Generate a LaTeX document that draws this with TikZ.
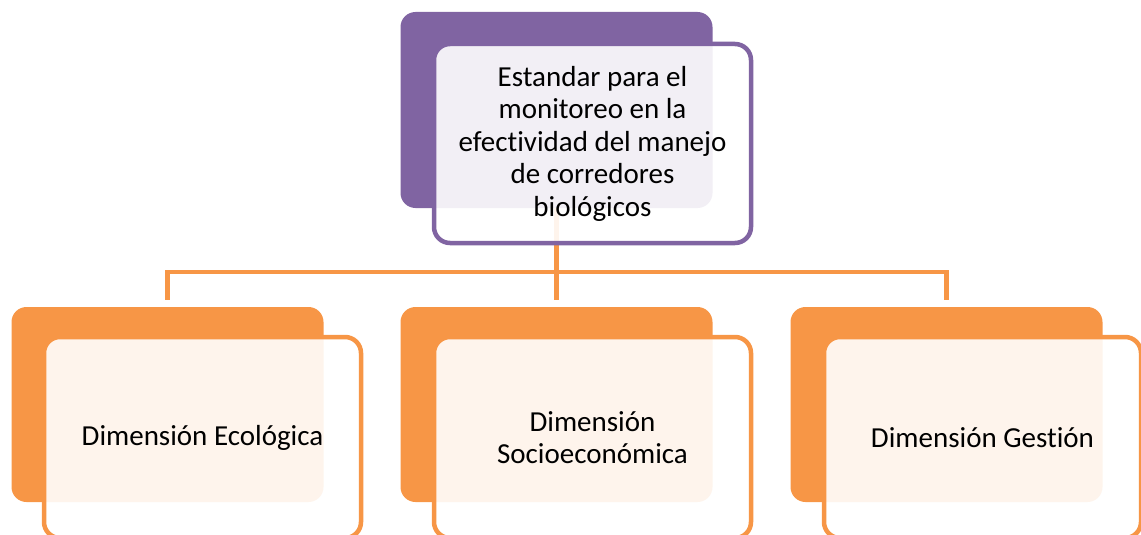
\documentclass[tikz,border=0pt]{standalone}
\usepackage{fontspec}
\setmainfont{Carlito}[Ligatures={NoCommon}]
\definecolor{morado}{HTML}{8064A2}
\definecolor{naranja}{HTML}{F79646}
\tikzset{
 atras/.style={rectangle,rounded corners=15pt,fill=#1,minimum width=312pt,minimum height=195pt,inner sep=0pt},
 frente/.style={rectangle,rounded corners=16pt,draw=#1,line width=4.5pt,fill=white,fill opacity=0.9,draw opacity=1,text opacity=1,minimum width=317pt,minimum height=201pt,align=center,font=\fontsize{29}{32.5}\selectfont},
 conector/.style={draw=naranja,line width=4.5pt}
}
\begin{document}
\begin{tikzpicture}[x=1pt,y=-1pt]
 \useasboundingbox (0,0) rectangle (1141,535);
 \clip (0,0) rectangle (1141,535);
 \node[atras=morado,minimum height=196pt] (raiz_atras) at (556.5,110) {}; %上の箱
 \node[atras=naranja] (eco_atras) at (167.5,404.5) {}; %左の箱
 \node[atras=naranja] (socio_atras) at (556.5,404.5) {}; %中の箱
 \node[atras=naranja] (gestion_atras) at (946.5,404.5) {}; %右の箱
 \coordinate (rama) at (556.5,272); %分岐点
 \draw[conector] (raiz_atras.south) -- (rama);
 \draw[conector,shorten >=7pt] (rama) -| (eco_atras.north);
 \draw[conector,shorten >=7pt] (rama) -- (socio_atras.north);
 \draw[conector,shorten >=7pt] (rama) -| (gestion_atras.north);
 \node[frente=morado,minimum height=199pt] (raiz) at (592.5,143.5) {Estandar para el\\monitoreo en la\\efectividad del manejo\\de corredores\\biológicos};
 \node[frente=naranja] (eco) at (202.5,437.5) {Dimensión Ecológica};
 \node[frente=naranja] (socio) at (592.5,437.5) {Dimensión\\Socioeconómica};
 \node[frente=naranja] (gestion) at (982.5,437.5) {Dimensión Gestión};
\end{tikzpicture}
\end{document}
